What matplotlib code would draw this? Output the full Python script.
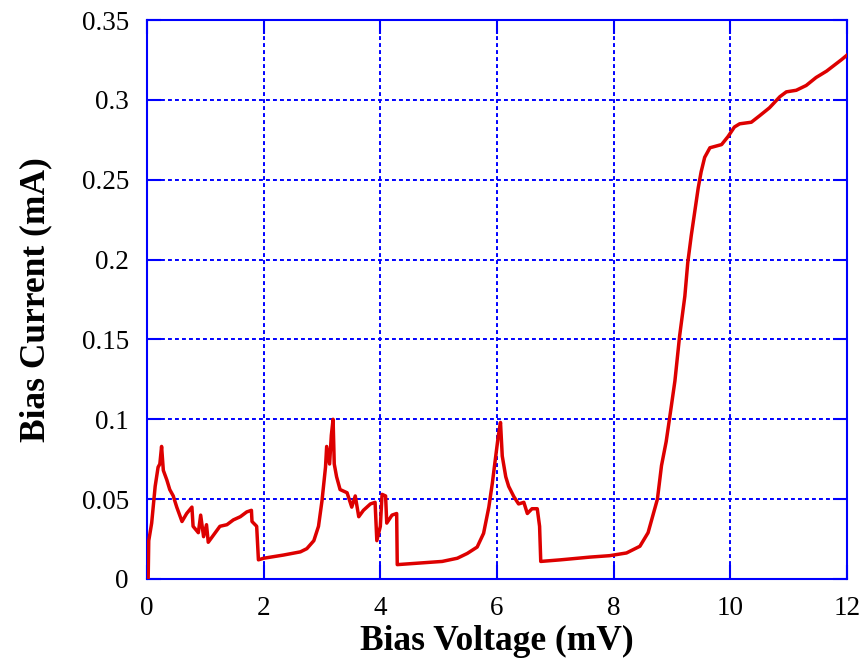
import numpy as np
import matplotlib
matplotlib.use("Agg")
import matplotlib.pyplot as plt

# bias voltage (mV) and bias current (mA)
V = [0.00, 0.02, 0.03, 0.08, 0.14, 0.19, 0.22, 0.25, 0.28, 0.34, 0.39, 0.45, 0.51, 0.56, 0.60,
     0.68, 0.77, 0.79, 0.88, 0.92, 0.97, 1.02, 1.05, 1.14, 1.25, 1.37, 1.48, 1.60, 1.71, 1.79,
     1.80, 1.88, 1.91, 2.00, 2.34, 2.63, 2.74, 2.86, 2.94, 3.00, 3.06, 3.08, 3.13, 3.16, 3.19,
     3.21, 3.25, 3.31, 3.43, 3.51, 3.57, 3.63, 3.71, 3.83, 3.91, 3.94, 4.00, 4.03, 4.09, 4.11,
     4.20, 4.28, 4.29, 4.60, 5.06, 5.32, 5.49, 5.66, 5.77, 5.86, 5.92, 5.97, 6.02, 6.06, 6.09,
     6.15, 6.20, 6.29, 6.37, 6.46, 6.52, 6.60, 6.69, 6.73, 6.75, 7.09, 7.59, 7.93, 8.22, 8.45,
     8.59, 8.67, 8.75, 8.82, 8.90, 8.96, 9.05, 9.13, 9.22, 9.27, 9.33, 9.39, 9.45, 9.50, 9.56,
     9.65, 9.85, 9.96, 10.07, 10.16, 10.36, 10.50, 10.67, 10.85, 10.96, 11.13, 11.30, 11.47,
     11.65, 11.90, 12.00]
I = [0.000, 0.000, 0.024, 0.035, 0.058, 0.070, 0.072, 0.083, 0.068, 0.062, 0.056, 0.052, 0.045, 0.040, 0.036,
     0.041, 0.045, 0.033, 0.029, 0.040, 0.0265, 0.034, 0.023, 0.0275, 0.033, 0.034, 0.037, 0.039, 0.042, 0.043,
     0.036, 0.033, 0.012, 0.013, 0.015, 0.017, 0.019, 0.024, 0.033, 0.049, 0.070, 0.083, 0.072, 0.090, 0.100,
     0.072, 0.064, 0.056, 0.054, 0.045, 0.052, 0.039, 0.043, 0.047, 0.048, 0.024, 0.033, 0.053, 0.052, 0.035,
     0.040, 0.041, 0.009, 0.0098, 0.011, 0.013, 0.016, 0.020, 0.0286, 0.045, 0.060, 0.0745, 0.089, 0.098, 0.077,
     0.064, 0.058, 0.0515, 0.047, 0.048, 0.041, 0.044, 0.044, 0.033, 0.011, 0.012, 0.0137, 0.0146, 0.0163, 0.0205,
     0.029, 0.0395, 0.050, 0.071, 0.086, 0.101, 0.124, 0.152, 0.177, 0.198, 0.215, 0.230, 0.245, 0.255, 0.264,
     0.270, 0.272, 0.277, 0.283, 0.285, 0.286, 0.290, 0.295, 0.302, 0.305, 0.306, 0.309, 0.314,
     0.318, 0.325, 0.328]
xticks = [0, 2, 4, 6, 8, 10, 12]
yticks = [0, 0.05, 0.1, 0.15, 0.2, 0.25, 0.3, 0.35]

plt.rcParams["font.family"] = ["Liberation Serif", "DejaVu Serif"]
fig = plt.figure(figsize=(8.59, 6.67), dpi=100)
ax = fig.add_axes([147/859, 88/667, 700/859, 559/667])

ax.plot(V, I, "-", color="#dd0000", lw=2.5, zorder=3)

ax.set_xlim(0, 12)
ax.set_ylim(0, 0.35)
ax.set_xticks(xticks)
ax.set_yticks(yticks)
ax.yaxis.set_major_formatter(matplotlib.ticker.FormatStrFormatter("%g"))
ax.grid(True, color="#0000ff", lw=1.4, linestyle=(0, (2, 1.6)))
for s in ax.spines.values():
    s.set_color("#0000ff")
    s.set_linewidth(1.5)
ax.tick_params(direction="in", length=10, width=1.5, color="#0000ff",
               top=True, right=True, labelsize=19.5)
ax.tick_params(axis="x", pad=12)
ax.tick_params(axis="y", pad=13)

ax.set_xlabel("Bias Voltage (mV)", fontsize=25.5, fontweight="bold", labelpad=3)
ax.set_ylabel("Bias Current (mA)", fontsize=25.5, fontweight="bold", labelpad=21)

fig.savefig("out.png", dpi=100)
